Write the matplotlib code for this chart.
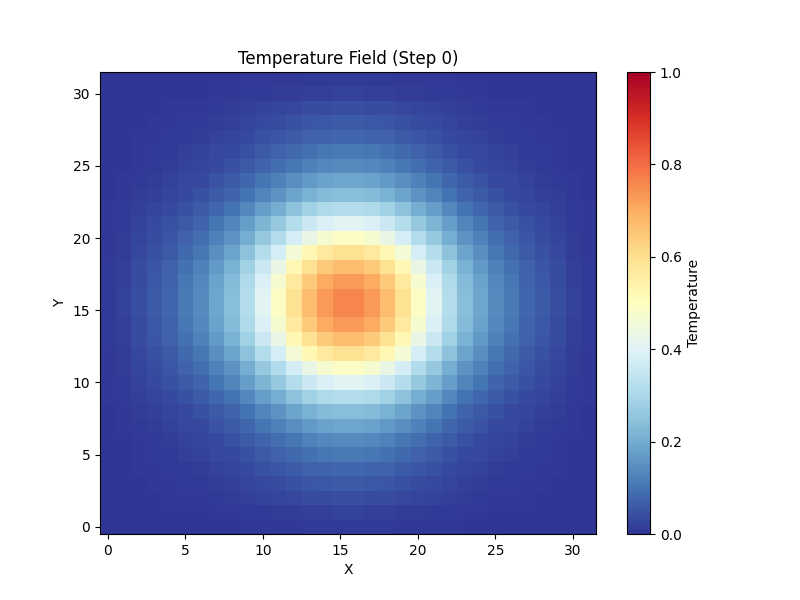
import numpy as np
import matplotlib
matplotlib.use("Agg")
import matplotlib.pyplot as plt

# Temperature profile read along the centre row / centre column (32 cells)
profile = [0.01, 0.02, 0.04, 0.06, 0.08, 0.11, 0.14, 0.19, 0.24, 0.32, 0.41, 0.49,
           0.59, 0.67, 0.73, 0.76, 0.76, 0.73, 0.67, 0.59, 0.49, 0.41, 0.32, 0.24,
           0.19, 0.14, 0.11, 0.08, 0.06, 0.04, 0.02, 0.01]
peak = 0.76

p = np.array(profile)
field = np.outer(p, p) / peak

fig = plt.figure(figsize=(8, 6), dpi=100)
im = plt.imshow(field, cmap='RdYlBu_r', vmin=0, vmax=1, origin='lower', aspect='auto')
plt.colorbar(im, label='Temperature')
plt.title('Temperature Field (Step 0)')
plt.xlabel('X')
plt.ylabel('Y')
plt.savefig('out.png')
